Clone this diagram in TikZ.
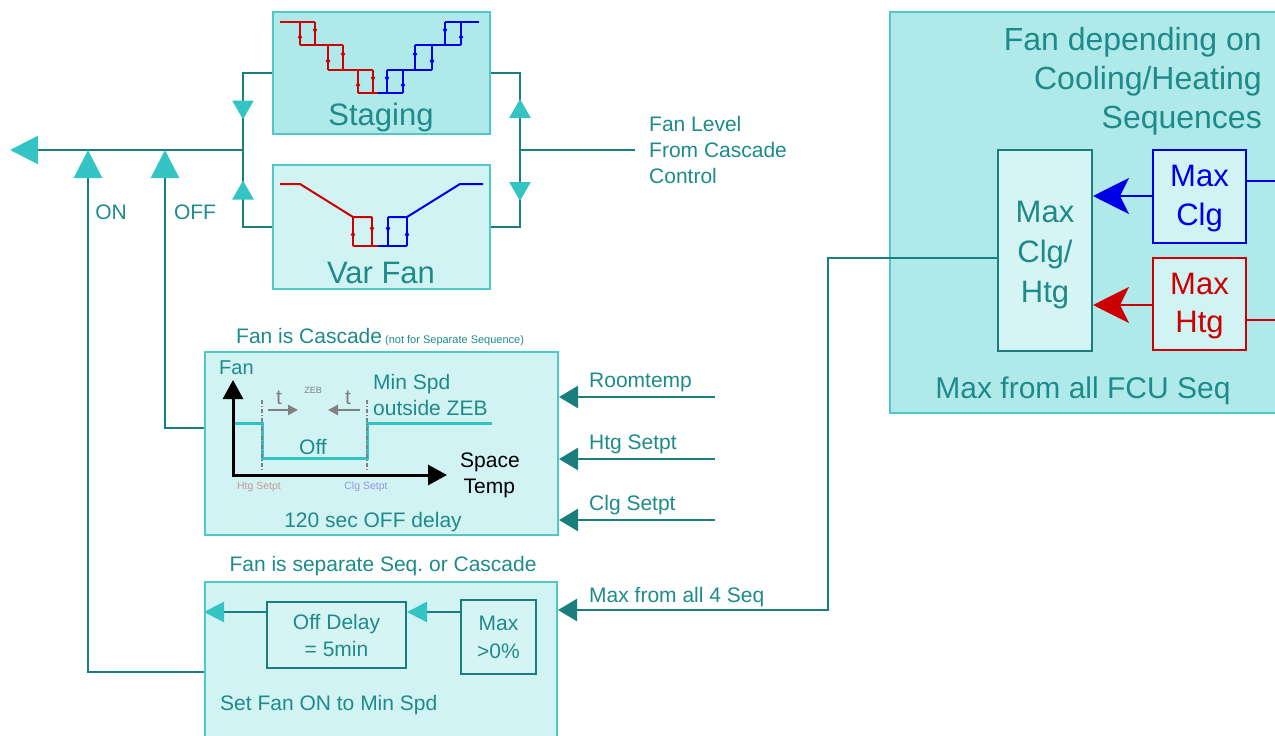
\documentclass[tikz,border=0pt]{standalone}
\usepackage{fontspec}
\setmainfont{Liberation Sans}
\usetikzlibrary{arrows.meta,decorations.markings,calc}
\definecolor{txt}{RGB}{30,138,138}
\definecolor{lnc}{RGB}{26,126,126}
\definecolor{cyanA}{RGB}{52,196,196}
\definecolor{bord}{RGB}{80,200,200}
\definecolor{fillA}{RGB}{176,233,233}
\definecolor{fillB}{RGB}{210,243,243}
\definecolor{fillC}{RGB}{214,244,244}
\definecolor{redA}{RGB}{204,0,0}
\definecolor{bluA}{RGB}{0,0,230}
\definecolor{htgc}{RGB}{200,150,150}
\definecolor{clgc}{RGB}{150,150,225}
\newcommand\fsz[2]{\fontsize{#1}{#2}\selectfont}
\tikzset{
  tipS/.tip={Triangle[length=19pt,width=21pt,color=cyanA]},
  tipL/.tip={Triangle[length=28pt,width=28pt,color=cyanA]},
  tipM/.tip={Triangle[length=20pt,width=20pt,color=cyanA]},
  tipD/.tip={Triangle[length=19pt,width=22pt,color=lnc]},
  tipK/.tip={Triangle[length=19pt,width=20pt,color=black]},
  tipG/.tip={Triangle[length=10pt,width=10pt,color=gray]},
  tipB/.tip={Stealth[length=36pt,width=36pt,inset=9pt,color=bluA]},
  tipR/.tip={Stealth[length=36pt,width=36pt,inset=9pt,color=redA]},
  tny/.tip={Latex[length=7pt,width=5pt]},
  box/.style={draw=bord, line width=2pt, inner sep=0pt},
  ibox/.style={draw=lnc, line width=2pt, fill=fillC, inner sep=0pt, text=txt, align=center},
  ln/.style={draw=lnc, line width=2.5pt},
  T/.style={text=txt, inner sep=0pt, font=\fsz{21}{26}, align=center},
  TB/.style={text=txt, inner sep=0pt, font=\fsz{31}{39}, align=center},
  marr/.style 2 args={postaction={decorate}, decoration={markings, mark=at position #1 with {\arrow{#2}}}},
  rs/.style={draw=redA, line width=2pt},
  bs/.style={draw=bluA, line width=2pt},
  up/.style={marr={0.6}{tny}},
}
\begin{document}
\begin{tikzpicture}[x=1pt,y=-1pt]
\useasboundingbox (0,0) rectangle (1275,736);
\clip (0,0) rectangle (1275,736);
% ---------- top boxes
\node[box, fill=fillA, minimum width=217pt, minimum height=122pt] (stg) at (381,73) {};
\node[box, fill=fillB, minimum width=217pt, minimum height=124pt] (vf) at (381,227) {};
\node[TB] (stgT) at (381,117) {Staging};
\node[TB] (vfT) at (381,273) {Var Fan};
% staging curves
\draw[rs] (280,22) -- (315,22);
\draw[rs] (300,45) -- (343,45);
\draw[rs] (328,70) -- (373,70);
\draw[rs] (358,93) -- (378,93);
\draw[rs,up] (300,45) -- (300,22);
\draw[rs,up] (315,22) -- (315,45);
\draw[rs,up] (328,70) -- (328,45);
\draw[rs,up] (343,45) -- (343,70);
\draw[rs,up] (358,93) -- (358,70);
\draw[rs,up] (373,70) -- (373,93);
\draw[bs] (378,93) -- (403,93);
\draw[bs] (387,70) -- (432,70);
\draw[bs] (415,45) -- (461,45);
\draw[bs] (445,22) -- (479,22);
\draw[bs,up] (387,70) -- (387,93);
\draw[bs,up] (403,93) -- (403,70);
\draw[bs,up] (415,45) -- (415,70);
\draw[bs,up] (432,70) -- (432,45);
\draw[bs,up] (445,22) -- (445,45);
\draw[bs,up] (461,45) -- (461,22);
% var fan curves
\draw[rs] (280,184) -- (300,184) -- (353,217) -- (372,217);
\draw[rs] (353,246) -- (378,246);
\draw[rs,up] (353,246) -- (353,217);
\draw[rs,up] (372,217) -- (372,246);
\draw[bs] (378,246) -- (407,246);
\draw[bs] (388,217) -- (407,217) -- (460,184) -- (483,184);
\draw[bs,up] (388,217) -- (388,246);
\draw[bs,up] (407,246) -- (407,217);
% junctions
\coordinate (jL) at (243,150);
\coordinate (jR) at (520,150);
\coordinate (out) at (10,150);
\coordinate (onJ) at (88,150);
\coordinate (offJ) at (165,150);
\coordinate (flE) at (635,150);
\draw[ln, marr={75pt}{tipS}] (stg.west) -| (jL);
\draw[ln, marr={75pt}{tipS}] (vf.west) -| (jL);
\draw[ln, marr={51pt}{tipS}] (jR) |- (stg.east);
\draw[ln, marr={51pt}{tipS}] (jR) |- (vf.east);
\draw[ln, -{tipL}] (jL) -- (out);
\node[T, anchor=west, align=left] (fl) at (649,150) {Fan Level\\From Cascade\\Control};
\draw[ln] (jR) -- (flE);
% ---------- cascade box
\node[box, fill=fillB, minimum width=353pt, minimum height=183pt] (casc) at (381.5,443.5) {};
\node[T, anchor=base west] (cascT) at (236,343) {Fan is Cascade{\fsz{11}{12} (not for Separate Sequence)}};
\node[T, anchor=west, font=\fsz{20}{24}] (fanT) at (219,368) {Fan};
\draw[line width=3pt, {tipK}-{tipK}] (233,380) -- (233,475) -- (447,475);
\draw[cyanA, line width=3pt] (235,423) -- (262,423) -- (262,458) -- (367,458) -- (367,423) -- (492,423);
\draw[gray, line width=1.5pt, dash pattern=on 4pt off 2pt on 1pt off 2pt] (262,400) -- (262,470);
\draw[gray, line width=1.5pt, dash pattern=on 4pt off 2pt on 1pt off 2pt] (367,400) -- (367,470);
\node[T, text=gray, font=\fsz{21}{24}] (t1) at (279,398) {t};
\node[T, text=gray, font=\fsz{21}{24}] (t2) at (348,398) {t};
\node[T, text=gray, font=\fsz{9}{10}] (zeb) at (313,390) {ZEB};
\draw[gray, line width=2.5pt, -{tipG}] (268,410) -- (298,410);
\draw[gray, line width=2.5pt, -{tipG}] (360,410) -- (328,410);
\node[T, anchor=west, align=left] (minspd) at (373,395) {Min Spd\\outside ZEB};
\node[T] (offT) at (313,447) {Off};
\node[T, text=black, anchor=west, align=left] (spT) at (460,475) {Space\\\,Temp};
\node[T, text=htgc, font=\fsz{10.5}{12}] (hs) at (259,487) {Htg Setpt};
\node[T, text=clgc, font=\fsz{10.5}{12}] (cs) at (366,487) {Clg Setpt};
\node[T] (delayT) at (373,522) {120 sec OFF delay};
% inputs
\coordinate (rt) at (715,397);
\coordinate (hsp) at (715,459);
\coordinate (csp) at (715,520);
\draw[ln, -{tipD}] (rt) -- (casc.east |- rt);
\draw[ln, -{tipD}] (hsp) -- (casc.east |- hsp);
\draw[ln, -{tipD}] (csp) -- (casc.east |- csp);
\node[T, anchor=west] (rtT) at (589,382) {Roomtemp};
\node[T, anchor=west] (hsT) at (589,444) {Htg Setpt};
\node[T, anchor=west] (csT) at (589,505) {Clg Setpt};
% OFF line
\draw[ln, -{tipL}] (casc.west |- 0,428) -| (offJ);
\node[T] (offL) at (195,212) {OFF};
% ---------- separate box
\node[box, fill=fillB, minimum width=352pt, minimum height=160pt] (sep) at (381,662) {};
\node[T] (sepT) at (383,566) {Fan is separate Seq.\ or Cascade};
\node[ibox, minimum width=139pt, minimum height=66pt, font=\fsz{21}{27}] (od) at (336.5,635) {Off Delay\\= 5min};
\node[ibox, minimum width=75pt, minimum height=74pt, font=\fsz{21}{28}] (mx) at (498.5,637) {Max\\>0\%};
\draw[ln, -{tipM}] (mx.west |- 0,612) -- (od.east |- 0,612);
\draw[ln, -{tipM}] (od.west |- 0,612) -- (sep.west |- 0,612);
\node[T, anchor=west] (setT) at (220,705) {Set Fan ON to Min Spd};
\draw[ln, -{tipL}] (sep.west |- 0,672) -| (onJ);
\node[T] (onL) at (111,212) {ON};
% ---------- right box
\node[box, fill=fillA, minimum width=400pt, minimum height=401pt] (rb) at (1090,212.5) {};
\node[TB, anchor=north east, align=right, font=\fsz{32}{39}] (rbT) at (1262,27) {Fan depending on\\Cooling/Heating\\Sequences};
\node[ibox, minimum width=94pt, minimum height=201pt, font=\fsz{31}{40}] (mcht) at (1045,250.5) {\rule{0pt}{31pt}Max\\Clg/\\Htg};
\node[ibox, draw=bluA, text=bluA, fill=fillB, minimum width=93pt, minimum height=93pt, font=\fsz{31}{39}] (mc) at (1199.5,196.5) {\rule{0pt}{26pt}Max\\Clg};
\node[ibox, draw=redA, text=redA, fill=fillB, minimum width=93pt, minimum height=92pt, font=\fsz{31}{38}] (mh) at (1199.5,304) {\rule{0pt}{26pt}Max\\Htg};
\draw[bs, -{tipB}] (mc.west |- 0,196) -- (mcht.east |- 0,196);
\draw[rs, -{tipR}] (mh.west |- 0,305) -- (mcht.east |- 0,305);
\coordinate (cin) at (1290,181);
\coordinate (hin) at (1290,320);
\draw[bs] (mc.east |- cin) -- (cin);
\draw[rs] (mh.east |- hin) -- (hin);
\node[TB, font=\fsz{30}{36}] (fcuT) at (1083,391) {Max from all FCU Seq};
% max from all 4 seq
\coordinate (bend) at (828,610);
\draw[ln, -{tipD}] (mcht.west |- 0,258) -| (bend) -- (sep.east |- bend);
\node[T, anchor=west] (m4T) at (589,597) {Max from all 4 Seq};
\end{tikzpicture}
\end{document}
